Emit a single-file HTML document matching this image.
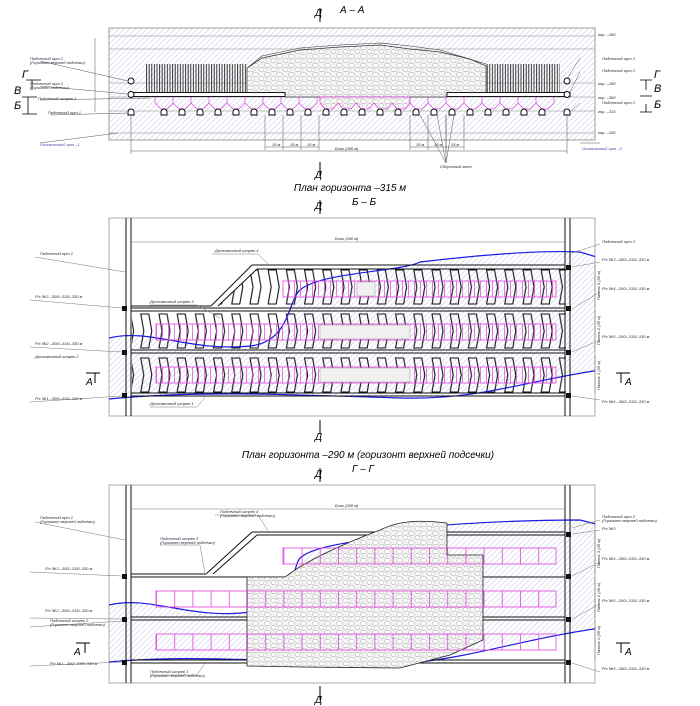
<!DOCTYPE html>
<html><head><meta charset="utf-8"><style>
html,body{margin:0;padding:0;background:#fff}
svg{display:block}
text{font-family:"Liberation Sans","DejaVu Sans",sans-serif;font-style:italic}
</style></head><body>
<svg width="700" height="706" viewBox="0 0 700 706" xmlns="http://www.w3.org/2000/svg">
<defs>
<pattern id="h" width="4" height="4" patternUnits="userSpaceOnUse" patternTransform="rotate(45)"><line x1="0" y1="0" x2="0" y2="4" stroke="#8c8cd0" stroke-width="0.55"/></pattern>
<pattern id="vl" width="2.6" height="10" patternUnits="userSpaceOnUse"><line x1="1" y1="0" x2="1" y2="10" stroke="#222" stroke-width="0.9"/></pattern>
<pattern id="rub" width="12" height="9" patternUnits="userSpaceOnUse"><rect width="12" height="9" fill="#f4f4f4"/><ellipse cx="3.5" cy="2.5" rx="3" ry="2.2" fill="#fff" stroke="#999" stroke-width="0.5"/><ellipse cx="9.5" cy="6.5" rx="2.6" ry="2.2" fill="#fff" stroke="#999" stroke-width="0.5"/><ellipse cx="1" cy="7" rx="1.5" ry="1.4" fill="#fff" stroke="#aaa" stroke-width="0.4"/></pattern>
<pattern id="chev" x="155" y="267" width="18.2" height="44" patternUnits="userSpaceOnUse"><polygon points="4,3 12,3 15,20 12,37 4,37 7,20" fill="none" stroke="#111" stroke-width="1.1"/></pattern>
<pattern id="mg" x="156" width="6" height="20" patternUnits="userSpaceOnUse"><line x1="0.5" y1="0" x2="0.5" y2="20" stroke="#e040e0" stroke-width="0.7"/></pattern>
<pattern id="mg2" x="156" width="18.2" height="20" patternUnits="userSpaceOnUse"><line x1="0.5" y1="0" x2="0.5" y2="20" stroke="#e040e0" stroke-width="0.8"/></pattern>
<clipPath id="c2"><rect x="109" y="218" width="486" height="198"/></clipPath>
<clipPath id="c3"><rect x="109" y="485" width="486" height="198"/></clipPath>
</defs>

<!-- ===== A-A ===== -->
<text x="315" y="16" font-size="10">Д</text><line x1="320" y1="8" x2="320" y2="22" stroke="#000"/>
<text x="340" y="13" font-size="10">А – А</text>
<rect x="109" y="28" width="486" height="112" fill="url(#h)" stroke="#777" stroke-width="0.7"/>
<g stroke="#888" stroke-width="0.6">
<line x1="109" y1="36" x2="595" y2="36"/><line x1="109" y1="49" x2="595" y2="49"/><line x1="109" y1="83" x2="595" y2="83"/><line x1="109" y1="97" x2="595" y2="97"/><line x1="109" y1="111" x2="595" y2="111"/><line x1="109" y1="133" x2="595" y2="133"/></g>
<rect x="145" y="64" width="102" height="29" fill="url(#vl)"/>
<rect x="485" y="64" width="75" height="29" fill="url(#vl)"/>
<path d="M247,93 L247,68 L262,58 L300,50 L340,47 L380,45 L410,49 L440,52 L470,59 L486,66 L486,93 L447,93 L447,97 L285,97 L285,93 Z" fill="url(#rub)" stroke="#333" stroke-width="0.7"/>
<path d="M247,68 L262,56 L300,48 L340,45 L380,43 L410,46 L440,50 L486,64" fill="none" stroke="#333" stroke-width="0.6"/>
<rect x="130" y="92.5" width="155" height="4" fill="#fff" stroke="#000" stroke-width="0.9"/>
<rect x="447" y="92.5" width="123" height="4" fill="#fff" stroke="#000" stroke-width="0.9"/>
<g fill="#fff" stroke="#000" stroke-width="0.9">
<circle cx="131" cy="81" r="3"/><circle cx="567" cy="81" r="3"/><circle cx="131" cy="94.5" r="3"/><circle cx="567" cy="94.5" r="3"/></g>
<g stroke="#e040e0" stroke-width="0.7" fill="none">
<polyline points="155,97 155,103 161,109 167,109 173,103 173,97 173,103 179,109 185,109 191,103 191,97 191,103 197,109 203,109 209,103 209,97 209,103 215,109 221,109 227,103 227,97 227,103 233,109 239,109 245,103 245,97 245,103 251,109 257,109 263,103 263,97 263,103 269,109 275,109 281,103 281,97 281,103 287,109 293,109 299,103 299,97 299,103 305,109 311,109 317,103 317,97"/>
<polyline points="410,97 410,103 416,109 422,109 428,103 428,97 428,103 434,109 440,109 446,103 446,97 446,103 452,109 458,109 464,103 464,97 464,103 470,109 476,109 482,103 482,97 482,103 488,109 494,109 500,103 500,97 500,103 506,109 512,109 518,103 518,97 518,103 524,109 530,109 536,103 536,97 536,103 542,109 548,109 554,103 554,97"/>
</g>
<path d="M320,97 L320,103 L325,109 L333,109 L338,103 L343,109 L351,109 L356,103 L361,109 L369,109 L374,103 L379,109 L387,109 L392,103 L397,109 L405,109 L410,103 L410,97 Z" fill="url(#rub)" stroke="#e040e0" stroke-width="0.8"/>
<g fill="#fff" stroke="#000" stroke-width="0.9">
<path d="M128,115 v-3 a3,3 0 0 1 6,0 v3z"/><path d="M161,115 v-3 a3,3 0 0 1 6,0 v3z"/><path d="M179,115 v-3 a3,3 0 0 1 6,0 v3z"/><path d="M197,115 v-3 a3,3 0 0 1 6,0 v3z"/><path d="M215,115 v-3 a3,3 0 0 1 6,0 v3z"/><path d="M233,115 v-3 a3,3 0 0 1 6,0 v3z"/><path d="M251,115 v-3 a3,3 0 0 1 6,0 v3z"/><path d="M269,115 v-3 a3,3 0 0 1 6,0 v3z"/><path d="M287,115 v-3 a3,3 0 0 1 6,0 v3z"/><path d="M305,115 v-3 a3,3 0 0 1 6,0 v3z"/><path d="M323,115 v-3 a3,3 0 0 1 6,0 v3z"/><path d="M341,115 v-3 a3,3 0 0 1 6,0 v3z"/><path d="M359,115 v-3 a3,3 0 0 1 6,0 v3z"/><path d="M377,115 v-3 a3,3 0 0 1 6,0 v3z"/><path d="M395,115 v-3 a3,3 0 0 1 6,0 v3z"/><path d="M413,115 v-3 a3,3 0 0 1 6,0 v3z"/><path d="M431,115 v-3 a3,3 0 0 1 6,0 v3z"/><path d="M449,115 v-3 a3,3 0 0 1 6,0 v3z"/><path d="M467,115 v-3 a3,3 0 0 1 6,0 v3z"/><path d="M485,115 v-3 a3,3 0 0 1 6,0 v3z"/><path d="M503,115 v-3 a3,3 0 0 1 6,0 v3z"/><path d="M521,115 v-3 a3,3 0 0 1 6,0 v3z"/><path d="M539,115 v-3 a3,3 0 0 1 6,0 v3z"/><path d="M564,115 v-3 a3,3 0 0 1 6,0 v3z"/></g>
<g stroke="#555" stroke-width="0.5" fill="none">
<line x1="131" y1="151" x2="567" y2="151"/><line x1="131" y1="115" x2="131" y2="154"/><line x1="567" y1="115" x2="567" y2="154"/>
<line x1="265" y1="115" x2="265" y2="150"/><line x1="283" y1="115" x2="283" y2="150"/><line x1="301" y1="115" x2="301" y2="150"/><line x1="319" y1="115" x2="319" y2="150"/>
<line x1="265" y1="147" x2="319" y2="147"/><line x1="410" y1="147" x2="464" y2="147"/>
<line x1="410" y1="115" x2="410" y2="150"/><line x1="428" y1="115" x2="428" y2="150"/><line x1="446" y1="115" x2="446" y2="150"/><line x1="464" y1="115" x2="464" y2="150"/>
<path d="M446,163 L420,115 M446,163 L437,115 M446,163 L446,115 M446,163 L454,115"/>
<line x1="95" y1="38" x2="95" y2="112"/>
<path d="M40,61 L128,81 M40,86 L128,94 M40,100 L150,98 M50,115 L128,113 M40,143 L118,133 M580,58 L567,79 M580,72 L570,92 M580,103 L570,112 M580,143 L600,143"/>
</g>
<g font-size="4" fill="#223">
<text x="272" y="146">15 м</text><text x="290" y="146">15 м</text><text x="307" y="146">15 м</text>
<text x="416" y="146">15 м</text><text x="434" y="146">15 м</text><text x="451" y="146">15 м</text>
<text x="335" y="150">Блок (360 м)</text><text x="440" y="168">Сборочный зонт</text>
<text x="30" y="60">Подсечный орт 1</text><text x="30" y="64">(Горизонт верхней подсечки)</text>
<text x="30" y="85">Подсечный орт 1</text><text x="30" y="89">(Горизонт подсечки)</text>
<text x="38" y="100">Подсечный штрек 1</text><text x="48" y="114">Подсечный орт 1</text>
<text x="40" y="146" fill="#44a">Откаточный орт –1</text>
<text x="598" y="36">гор. –260</text><text x="598" y="85">гор. –290</text><text x="598" y="99">гор. –300</text><text x="598" y="113">гор. –315</text><text x="598" y="134">гор. –330</text>
<text x="602" y="60">Подсечный орт 2</text><text x="602" y="72">Подсечный орт 2</text><text x="602" y="104">Подсечный орт 2</text><text x="582" y="150" fill="#44a">Откаточный орт –3</text>
</g>
<g font-size="11" fill="#000">
<text x="22" y="78">Г</text><text x="14" y="94">В</text><text x="14" y="109">Б</text>
<text x="654" y="78">Г</text><text x="654" y="92">В</text><text x="654" y="108">Б</text>
</g>
<g stroke="#000" stroke-width="0.8"><path d="M26,80 H41 M32,80 V90 M22,97 H37 M28,97 V106 M22,114 H37 M28,106 V114 M640,80 H652 M646,80 V90 M640,96 H652 M640,112 H652 M646,104 V112"/></g>
<text x="315" y="178" font-size="10">Д</text><line x1="320" y1="162" x2="320" y2="176" stroke="#000"/>
<text x="350" y="191" font-size="10" text-anchor="middle">План горизонта –315 м</text>

<!-- ===== Б-Б ===== -->
<text x="315" y="209" font-size="10">Д</text><line x1="320" y1="200" x2="320" y2="214" stroke="#000"/>
<text x="352" y="205" font-size="10">Б – Б</text>
<rect x="109" y="218" width="486" height="198" fill="#fff" stroke="#888" stroke-width="0.7"/>
<g clip-path="url(#c2)">
<path d="M109,338 C150,328 190,352 250,346 C290,342 288,300 300,290 C320,272 400,272 420,262 C480,255 540,250 580,252 L595,256 L595,372 C520,382 480,400 400,398 C300,395 200,390 109,399 Z" fill="url(#h)"/>
<path d="M218,306 L256,269 L566,269 L566,306 Z M132,311 H566 V350 H132 Z M132,355 H566 V393 H132 Z" fill="url(#chev)"/>
<path d="M109,338 C150,328 190,352 250,346 C290,342 288,300 300,290 C320,272 400,272 420,262 C480,255 540,250 580,252 L600,258" fill="none" stroke="#1a1ae0" stroke-width="1.2"/>
<path d="M109,399 C200,390 300,395 400,398 C480,400 520,382 600,370" fill="none" stroke="#1a1ae0" stroke-width="1.2"/>
</g>
<g fill="none" stroke="#111" stroke-width="1">
<path d="M126,218 V416 M131,218 V416 M565,218 V416 M570,218 V416"/>
<path d="M252,265 H565 M257,269 H565 M131,306 H211 M252,265 L211,306 M257,269 L218,306"/>
<path d="M131,308 H565 M131,311 H565 M131,350 H565 M131,353 H565 M131,393 H565 M131,396 H565"/>
</g>
<g fill="#111"><rect x="122" y="306" width="5" height="5"/><rect x="122" y="350" width="5" height="5"/><rect x="122" y="393" width="5" height="5"/><rect x="566" y="265" width="5" height="5"/><rect x="566" y="306" width="5" height="5"/><rect x="566" y="350" width="5" height="5"/><rect x="566" y="393" width="5" height="5"/></g>
<g stroke="#e040e0" stroke-width="0.8"><rect x="283" y="281" width="273" height="16" fill="url(#mg)"/><rect x="156" y="324" width="400" height="16" fill="url(#mg)"/><rect x="156" y="367" width="400" height="16" fill="url(#mg)"/></g>
<g fill="#f0f0f0" stroke="#999" stroke-width="0.5"><rect x="357" y="282" width="18" height="14"/><rect x="320" y="325" width="90" height="14"/><rect x="320" y="368" width="90" height="14"/></g>
<g stroke="#777" stroke-width="0.5" fill="none"><line x1="131" y1="242" x2="565" y2="242"/><path d="M35,257 L125,272 M30,300 L122,308 M30,347 L122,352 M30,402 L122,396 M150,407 L197,407 L206,396 M150,305 L197,305 L220,318 M212,254 L258,254 L268,264 M600,244 L572,253 M600,262 L572,267 M600,292 L572,309 M600,340 L572,352 M600,400 L572,396"/>
<path d="M595,265 V306 M595,309 V350 M595,355 V393"/></g>
<g font-size="4" fill="#223">
<text x="335" y="240">Блок (360 м)</text>
<text x="40" y="255">Подсечный орт 1</text><text x="35" y="298">Р/с №3 –300/–315/–330 м</text><text x="35" y="345">Р/с №2 –300/–315/–330 м</text><text x="35" y="358">Доставочный штрек 2</text><text x="35" y="400">Р/с №1 –300/–315/–330 м</text>
<text x="150" y="405">Доставочный штрек 1</text><text x="150" y="303">Доставочный штрек 3</text><text x="215" y="252">Доставочный штрек 4</text>
<text x="602" y="243">Подсечный орт 2</text><text x="602" y="261">Р/с №3 –300/–315/–330 м</text><text x="602" y="290">Р/с №4 –300/–315/–330 м</text><text x="602" y="338">Р/с №5 –300/–315/–330 м</text><text x="602" y="403">Р/с №6 –300/–315/–330 м</text>
<text transform="translate(600,300) rotate(-90)">Панель 3 (35 м)</text><text transform="translate(600,345) rotate(-90)">Панель 2 (35 м)</text><text transform="translate(600,390) rotate(-90)">Панель 1 (35 м)</text>
</g>
<text x="86" y="385" font-size="10">А</text><path d="M86,373 H100 M95,373 V383" stroke="#000"/>
<text x="625" y="385" font-size="10">А</text><path d="M616,373 H630 M621,373 V383" stroke="#000"/>
<text x="315" y="440" font-size="10">Д</text><line x1="320" y1="420" x2="320" y2="434" stroke="#000"/>
<text x="368" y="458" font-size="10" text-anchor="middle">План горизонта –290 м (горизонт верхней подсечки)</text>

<!-- ===== Г-Г ===== -->
<text x="315" y="477" font-size="10">Д</text><line x1="320" y1="468" x2="320" y2="482" stroke="#000"/>
<text x="352" y="472" font-size="10">Г – Г</text>
<rect x="109" y="485" width="486" height="198" fill="#fff" stroke="#888" stroke-width="0.7"/>
<g clip-path="url(#c3)">
<path d="M109,605 C150,595 190,620 250,612 C300,605 290,570 300,558 C320,540 400,540 420,527 C480,522 540,520 580,520 L595,524 L595,630 C520,640 480,650 420,662 C300,662 200,655 109,662 Z" fill="url(#h)"/>
<path d="M109,605 C150,595 190,620 250,612 C300,605 290,570 300,558 C320,540 400,540 420,527 C480,522 540,520 580,520 L600,525" fill="none" stroke="#1a1ae0" stroke-width="1.2"/>
<path d="M109,662 C200,653 300,665 420,662 C480,655 520,640 600,628" fill="none" stroke="#1a1ae0" stroke-width="1.2"/>
</g>
<g fill="none" stroke="#111" stroke-width="1">
<path d="M126,485 V683 M131,485 V683 M565,485 V683 M570,485 V683"/>
<path d="M252,532 H565 M257,535 H565 M131,574 H206 M131,577 H565 M252,532 L206,574 M257,535 L213,574"/>
<path d="M131,617 H565 M131,620 H565 M131,660 H565 M131,663 H565"/>
</g>
<path d="M247,577 L247,666 L300,667 L400,668 L450,655 L483,640 L483,555 L447,555 L447,523 C420,520 400,520 380,530 C340,545 310,560 295,570 L285,577 Z" fill="url(#rub)" stroke="#222" stroke-width="0.8"/>
<g fill="#111"><rect x="122" y="574" width="5" height="5"/><rect x="122" y="617" width="5" height="5"/><rect x="122" y="660" width="5" height="5"/><rect x="566" y="532" width="5" height="5"/><rect x="566" y="574" width="5" height="5"/><rect x="566" y="617" width="5" height="5"/><rect x="566" y="660" width="5" height="5"/></g>
<g stroke="#e040e0" stroke-width="0.8" fill="none"><rect x="283" y="548" width="273" height="16" fill="url(#mg2)"/><rect x="156" y="591" width="400" height="16" fill="url(#mg2)"/><rect x="156" y="634" width="400" height="16" fill="url(#mg2)"/></g>
<g stroke="#777" stroke-width="0.5" fill="none"><line x1="131" y1="509" x2="565" y2="509"/><path d="M35,522 L125,540 M30,572 L122,576 M30,618 L122,619 M30,627 L122,621 M30,666 L122,662 M150,675 L197,675 L205,663 M160,545 L200,545 L205,574 M215,515 L258,515 L268,531 M600,520 L572,528 M600,530 L572,534 M600,562 L572,576 M600,604 L572,619 M600,672 L572,663"/>
<path d="M595,532 V574 M595,577 V617 M595,620 V660"/></g>
<g font-size="4" fill="#223">
<text x="335" y="507">Блок (360 м)</text>
<text x="40" y="519">Подсечный орт 1</text><text x="40" y="523">(Горизонт верхней подсечки)</text>
<text x="45" y="570">Р/с №3 –300/–315/–330 м</text><text x="45" y="612">Р/с №2 –300/–315/–330 м</text><text x="50" y="622">Подсечный штрек 2</text><text x="50" y="626">(Горизонт верхней подсечки)</text><text x="50" y="665">Р/с №1 –300/–315/–330 м</text>
<text x="150" y="673">Подсечный штрек 1</text><text x="150" y="677">(Горизонт верхней подсечки)</text>
<text x="160" y="540">Подсечный штрек 3</text><text x="160" y="544">(Горизонт верхней подсечки)</text>
<text x="220" y="513">Подсечный штрек 4</text><text x="220" y="517">(Горизонт верхней подсечки)</text>
<text x="602" y="518">Подсечный орт 2</text><text x="602" y="522">(Горизонт верхней подсечки)</text><text x="602" y="530">Р/с №3</text><text x="602" y="560">Р/с №4 –300/–315/–330 м</text><text x="602" y="602">Р/с №5 –300/–315/–330 м</text><text x="602" y="670">Р/с №6 –300/–315/–330 м</text>
<text transform="translate(600,568) rotate(-90)">Панель 3 (35 м)</text><text transform="translate(600,612) rotate(-90)">Панель 2 (35 м)</text><text transform="translate(600,655) rotate(-90)">Панель 1 (35 м)</text>
</g>
<text x="74" y="655" font-size="10">А</text><path d="M76,643 H90 M85,643 V653" stroke="#000"/>
<text x="625" y="655" font-size="10">А</text><path d="M616,643 H630 M621,643 V653" stroke="#000"/>
<text x="315" y="703" font-size="10">Д</text><line x1="320" y1="686" x2="320" y2="700" stroke="#000"/>
</svg>
</body></html>
